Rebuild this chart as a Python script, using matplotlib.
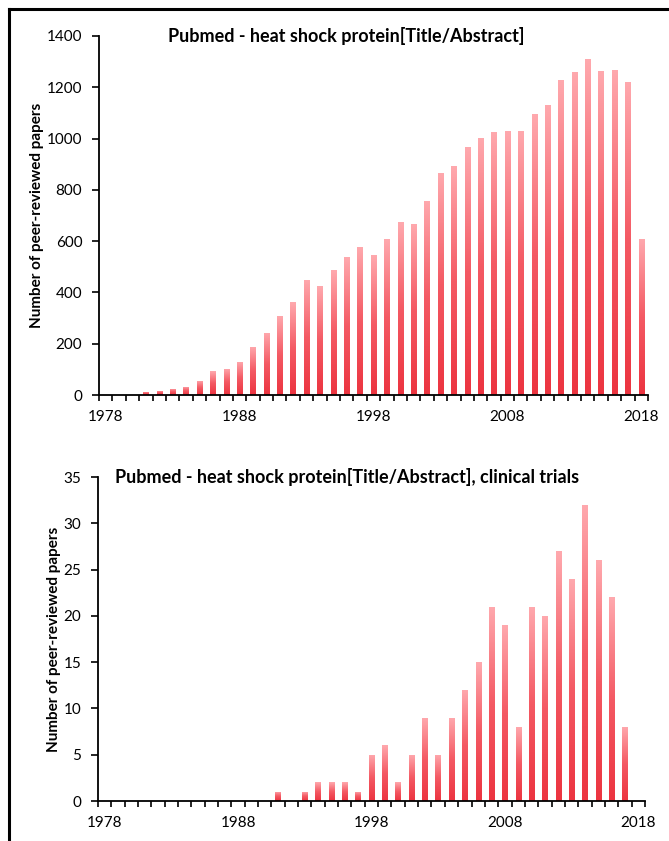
import matplotlib.pyplot as plt
import numpy as np
from matplotlib.colors import LinearSegmentedColormap

# 数据
years = list(range(1978, 2019))
all_papers = [0, 2, 2, 13, 16, 24, 32, 56, 92, 103,
              130, 188, 242, 310, 362, 450, 424, 487, 537, 578,
              545, 608, 674, 667, 757, 867, 892, 966, 1003, 1027,
              1030, 1031, 1094, 1132, 1230, 1260, 1312, 1264, 1268, 1222,
              610]
trials = [0, 0, 0, 0, 0, 0, 0, 0, 0, 0,
          0, 0, 0, 1, 0, 1, 2, 2, 2, 1,
          5, 6, 2, 5, 9, 5, 9, 12, 15, 21,
          19, 8, 21, 20, 27, 24, 32, 26, 22, 8,
          0]
label_years = ['1978', '1988', '1998', '2008', '2018']

plt.rcParams['font.family'] = ['Lato', 'DejaVu Sans']

cmap = LinearSegmentedColormap.from_list('bar', ['#ec3440', '#f45a64', '#ffa9ae'])
grad = np.linspace(0, 1, 256).reshape(-1, 1)


def gradient_bars(ax, values):
    x = np.arange(len(values))
    bars = ax.bar(x, values, width=0.4, color='none', edgecolor='none')
    for b, v in zip(bars, values):
        if v <= 0:
            continue
        im = ax.imshow(grad, cmap=cmap, aspect='auto', origin='lower',
                       extent=[b.get_x(), b.get_x() + b.get_width(), 0, v],
                       interpolation='bicubic', zorder=2)
        im.set_clip_path(b)
    return bars


def style(ax, values, ymax, ystep, title, tx, ty):
    n = len(values)
    gradient_bars(ax, values)
    ax.set_xlim(-0.5, n - 0.5)
    ax.set_ylim(0, ymax)
    ax.set_yticks(np.arange(0, ymax + 1, ystep))
    ax.set_xticks([years.index(int(y)) for y in label_years])
    ax.set_xticklabels(label_years)
    ax.set_xticks(np.arange(-0.5, n, 1), minor=True)
    ax.tick_params(axis='x', which='major', length=0, pad=11, labelsize=11)
    ax.tick_params(axis='x', which='minor', length=4, width=1.2, direction='out')
    ax.tick_params(axis='y', length=5, width=1.2, pad=7, labelsize=11)
    for s in ['top', 'right']:
        ax.spines[s].set_visible(False)
    for s in ['left', 'bottom']:
        ax.spines[s].set_linewidth(1.3)
    ax.set_ylabel('Number of peer-reviewed papers', fontsize=11, fontweight='bold')
    ax.set_aspect('auto')
    plt.gcf().text(tx, ty, title, fontsize=13, fontweight='bold', va='center')


fig = plt.figure(figsize=(6.69, 8.41), dpi=100)

ax1 = fig.add_axes([0.148, 0.5303, 0.8206, 0.4269])
style(ax1, all_papers, 1400, 200,
      'Pubmed - heat shock protein[Title/Abstract]', 168 / 669, 1 - 36 / 841)
ax1.yaxis.set_label_coords(-0.1, 0.5)

ax2 = fig.add_axes([0.1465, 0.04756, 0.8175, 0.3852])
style(ax2, trials, 35, 5,
      'Pubmed - heat shock protein[Title/Abstract], clinical trials', 115 / 669, 1 - 477 / 841)
ax2.yaxis.set_label_coords(-0.068, 0.5)

# 边框
fig.add_artist(plt.Line2D([9 / 669, 9 / 669], [0, 1 - 9 / 841], color='black', lw=2.2))
fig.add_artist(plt.Line2D([9 / 669, 1], [1 - 9 / 841, 1 - 9 / 841], color='black', lw=2.2))

plt.savefig('out.png', dpi=100)
